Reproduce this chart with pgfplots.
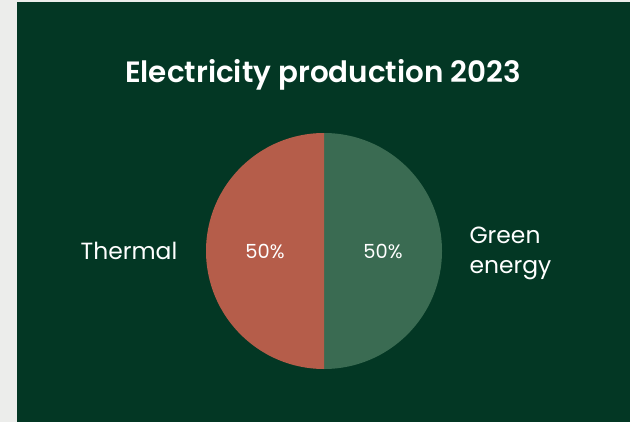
\documentclass[border=0pt]{standalone}
\usepackage{pgfplots}
\pgfplotsset{compat=1.18}
\usepackage{pgfplotstable}
\usepackage{fontspec}
\setmainfont{Poppins}[BoldFont={Poppins SemiBold}]
\definecolor{bgray}{HTML}{ECEDEB}
\definecolor{panel}{HTML}{033724}
\definecolor{thermal}{HTML}{B55D4A}
\definecolor{greenen}{HTML}{3A6B52}
\pgfplotstableread{
label value
Thermal 50
Green 50
}\piedata
\begin{document}
\begin{tikzpicture}
\pgfplotstablegetelem{0}{value}\of\piedata \edef\vA{\pgfplotsretval}
\pgfplotstablegetelem{1}{value}\of\piedata \edef\vB{\pgfplotsretval}
\pgfmathsetmacro{\tot}{\vA+\vB}
\pgfmathsetmacro{\angB}{360*(\vB/\tot)}
\pgfmathtruncatemacro{\pA}{round(100*(\vA/\tot))}
\pgfmathtruncatemacro{\pB}{round(100*(\vB/\tot))}
\begin{axis}[
  width=630bp, height=422bp, scale only axis,
  xmin=0, xmax=630, ymin=0, ymax=422,
  hide axis, clip=false,
]
\fill[bgray] (axis cs:0,0) rectangle (axis cs:630,422);
\fill[panel] (axis cs:17,0) rectangle (axis cs:630,420);
% pie: centre (324,171), radius 118
\fill[greenen] (axis cs:324,171) -- ++(90:118bp) arc[start angle=90, end angle=90-\angB, radius=118bp] -- cycle;
\fill[thermal] (axis cs:324,171) -- ++(90-\angB:118bp) arc[start angle=90-\angB, end angle=-270, radius=118bp] -- cycle;
\node[text=white, font=\fontsize{29.5}{34}\selectfont\bfseries] at (axis cs:323,347) {Electricity production 2023};
\node[text=white, font=\fontsize{23.5}{28}\selectfont] at (axis cs:129,171) {Thermal};
\node[text=white, font=\fontsize{23.5}{30}\selectfont, align=left, anchor=west] at (axis cs:466,169) {Green\\energy};
\node[text=white, font=\fontsize{19.5}{22}\selectfont] at (axis cs:265,171) {\pA\%};
\node[text=white, font=\fontsize{19.5}{22}\selectfont] at (axis cs:383,171) {\pB\%};
\end{axis}
\end{tikzpicture}
\end{document}
